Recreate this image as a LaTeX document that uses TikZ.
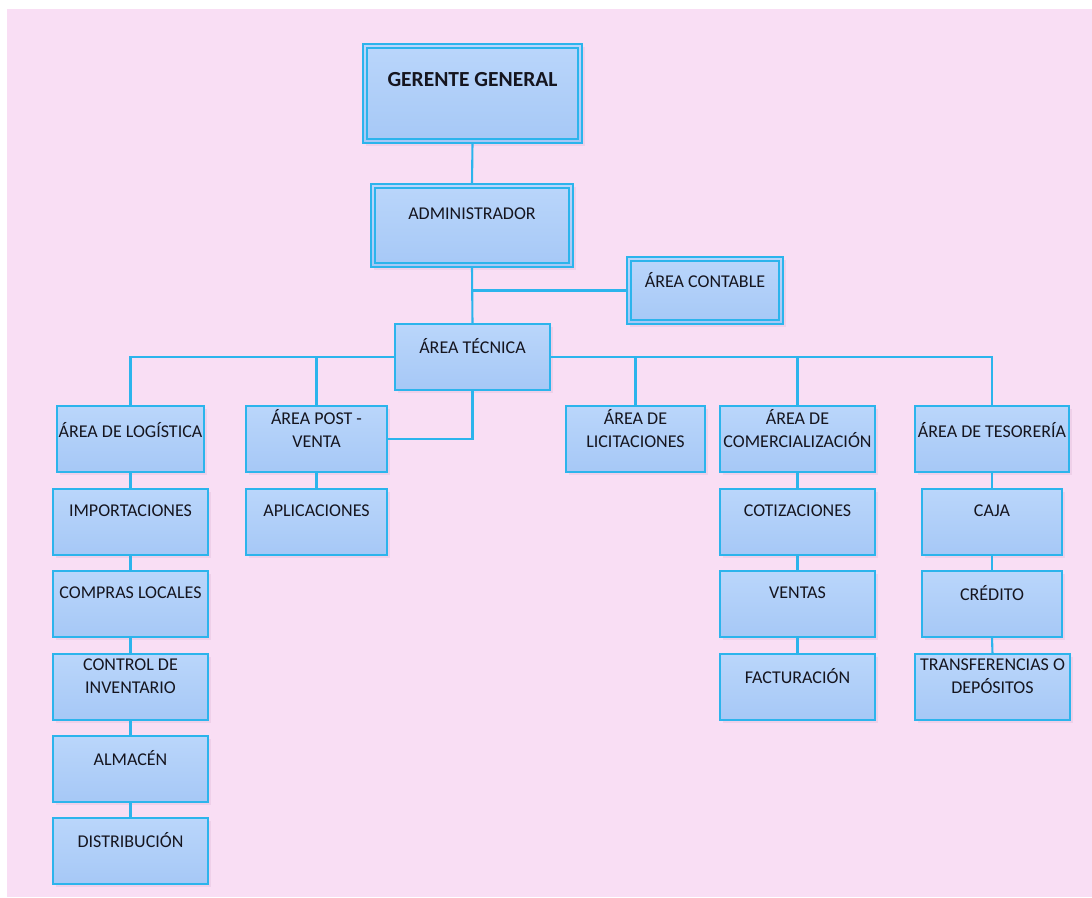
\documentclass[tikz,border=0pt]{standalone}
\usepackage{fontspec}
\setmainfont{Carlito}
\usetikzlibrary{calc}

\definecolor{pinkbg}{HTML}{F9DEF4}
\definecolor{edge}{HTML}{2CB4EC}
\definecolor{boxtop}{HTML}{BAD6FB}
\definecolor{boxbot}{HTML}{A6C8F6}
\definecolor{ink}{HTML}{15151F}
\definecolor{boxshadow}{HTML}{EFD0E9}

\tikzset{
  unitbox/.style={draw=edge, line width=1.9pt, top color=boxtop, bottom color=boxbot,
                  inner sep=0pt, outer sep=0pt, anchor=north west},
  lbl/.style={text=ink, align=center, inner sep=0pt,
              font=\fontsize{18}{23}\selectfont},
  link/.style={draw=edge, line width=2.1pt},
  innerframe/.style={draw=edge, line width=1.5pt},
}

% box: name, left, top, width, height, text offset from top, text
\newcommand\orgbox[7]{%
  \fill[boxshadow] (#2+3,#3+3) rectangle ++(#4,#5);
  \node[unitbox, minimum width=#4pt, minimum height=#5pt] (#1) at (#2,#3) {};
  \node[lbl] (#1-t) at ($(#1.north)+(0,#6)$) {#7};
}
% inner line of a double frame
\newcommand\innerline[1]{%
  \draw[innerframe] ([shift={(4,4)}]#1.north west) rectangle ([shift={(-4,-4)}]#1.south east);
}

\begin{document}
\begin{tikzpicture}[x=1pt, y=-1pt]
  \useasboundingbox (0,0) rectangle (1092,897);
  \fill[white] (0,0) rectangle (1092,897);
  \fill[pinkbg] (7,9) rectangle (1092,897);

  % top of the chart
  \orgbox{g}{363}{44}{219}{99}{36}{\bfseries\fontsize{21.5}{25}\selectfont GERENTE GENERAL}
  \innerline{g}
  \orgbox{a}{371}{184}{202}{83}{30}{ADMINISTRADOR}
  \innerline{a}
  \orgbox{c}{627}{257}{156}{67}{23}{ÁREA CONTABLE}
  \innerline{c}
  \orgbox{t}{395}{324}{155}{66}{22}{ÁREA TÉCNICA}

  % areas
  \orgbox{lg}{57}{406}{147}{66}{24}{ÁREA DE LOGÍSTICA}
  \orgbox{pv}{246}{406}{141}{66}{22.5}{ÁREA POST -\\VENTA}
  \orgbox{li}{566}{406}{139}{66}{22.5}{ÁREA DE\\LICITACIONES}
  \orgbox{cm}{720}{406}{155}{66}{22.5}{ÁREA DE\\COMERCIALIZACIÓN}
  \orgbox{ts}{915}{406}{154}{66}{24}{ÁREA DE TESORERÍA}

  % logistics column
  \orgbox{im}{53}{489}{155}{66}{22}{IMPORTACIONES}
  \orgbox{cl}{53}{571}{155}{66}{22}{COMPRAS LOCALES}
  \orgbox{ci}{53}{654}{155}{66}{22.5}{CONTROL DE\\INVENTARIO}
  \orgbox{al}{53}{736}{155}{66}{22}{ALMACÉN}
  \orgbox{di}{53}{818}{155}{66}{22}{DISTRIBUCIÓN}

  % after-sales column
  \orgbox{ap}{246}{489}{141}{66}{22}{APLICACIONES}

  % sales column
  \orgbox{ct}{720}{489}{155}{66}{22}{COTIZACIONES}
  \orgbox{ve}{720}{571}{155}{66}{22}{VENTAS}
  \orgbox{fa}{720}{654}{155}{66}{22}{FACTURACIÓN}

  % treasury column
  \orgbox{cj}{922}{489}{140}{66}{22}{CAJA}
  \orgbox{cr}{922}{571}{140}{66}{22}{CRÉDITO}
  \orgbox{tr}{915}{654}{155}{66}{22.5}{TRANSFERENCIAS O\\DEPÓSITOS}

  % connectors
  \coordinate (j1) at (a.south |- c.west);
  \draw[link] (g.south) -- (a.north);
  \draw[link] (a.south) -- (t.north);
  \draw[link] (j1) -- (c.west);
  \draw[link] (t.west) -| (lg.north);
  \draw[link] (t.west) -| (pv.north);
  \draw[link] (t.east) -| (li.north);
  \draw[link] (t.east) -| (cm.north);
  \draw[link] (t.east) -| (ts.north);
  \draw[link] (t.south) |- (pv.east);

  \draw[link] (lg.south) -- (im.north);
  \draw[link] (im.south) -- (cl.north);
  \draw[link] (cl.south) -- (ci.north);
  \draw[link] (ci.south) -- (al.north);
  \draw[link] (al.south) -- (di.north);

  \draw[link] (pv.south) -- (ap.north);

  \draw[link] (cm.south) -- (ct.north);
  \draw[link] (ct.south) -- (ve.north);
  \draw[link] (ve.south) -- (fa.north);

  \draw[link] (ts.south) -- (cj.north);
  \draw[link] (cj.south) -- (cr.north);
  \draw[link] (cr.south) -- (tr.north);
\end{tikzpicture}
\end{document}
